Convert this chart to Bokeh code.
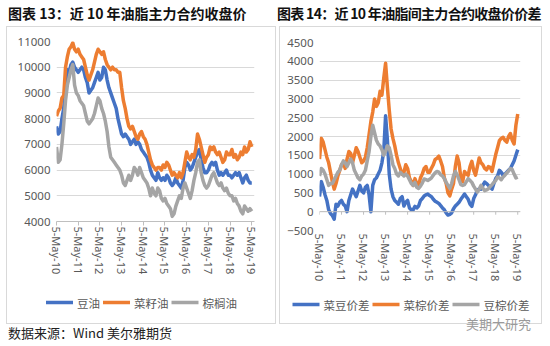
import math
from bokeh.plotting import figure
from bokeh.models import (FixedTicker, Span, Div, Range1d, Spacer)
from bokeh.core.properties import value
from bokeh.layouts import column, row
from bokeh.embed import file_html
from bokeh.resources import INLINE

# month index 0 = May 2010 ... 108 = May 2019
MONTHS = list(range(109))
X_TICKS = [0, 12, 24, 36, 48, 60, 72, 84, 96, 108]
X_LABELS = ["5-May-10", "5-May-11", "5-May-12", "5-May-13", "5-May-14",
            "5-May-15", "5-May-16", "5-May-17", "5-May-18", "5-May-19"]

LEFT_Y_TICKS = [4000, 5000, 6000, 7000, 8000, 9000, 10000, 11000]
RIGHT_Y_TICKS = [-500, 0, 500, 1000, 1500, 2000, 2500, 3000, 3500, 4000, 4500]

LEFT_NAMES = ["豆油", "菜籽油", "棕榈油"]
RIGHT_NAMES = ["菜豆价差", "菜棕价差", "豆棕价差"]

soy_oil = [7700, 7400, 7500, 8000, 8400, 9300, 9900, 9800, 10100, 10200,
           10000, 9900, 9800, 9900, 10000, 9900, 9600, 9400, 9000, 9100,
           9200, 9400, 9600, 9800, 9500, 9600, 10000, 9900, 9500, 9200,
           9000, 8800, 8600, 8400, 8000, 7700, 7400, 7300, 7400, 7300,
           7200, 7000, 7100, 7200, 7000, 7100, 7000, 6800, 6700, 6600,
           6500, 6300, 6000, 5800, 5700, 5600, 5900, 5700, 5600, 5700,
           5600, 5800, 5700, 5500, 5400, 5500, 5700, 5500, 5400, 5300,
           5600, 6100, 6300, 6200, 6000, 6100, 6300, 6500, 6700, 6800,
           6400, 6100, 5900, 5900, 6000, 6200, 6300, 6200, 6300, 6000,
           5800, 5900, 5800, 5900, 6000, 5800, 5800, 5700, 5800, 5900,
           5800, 5900, 5700, 5500, 5700, 5800, 5600, 5500, 5500]

rapeseed_oil = [8100, 8300, 8400, 8800, 8900, 10000, 10400, 10700, 10800, 10950,
                10700, 10600, 10700, 10500, 10400, 10300, 10000, 9700, 9500, 9700,
                9900, 10200, 10500, 10700, 10600, 10500, 10600, 10300, 10100, 10000,
                9900, 10000, 9900, 9900, 9800, 9800, 9200, 8700, 8400, 8000,
                7700, 7600, 7700, 7500, 7300, 7200, 7400, 7500, 7300, 7200,
                7000, 6700, 6400, 6200, 6100, 6000, 6100, 6100, 6000, 6200,
                6100, 6300, 6200, 6000, 5800, 5900, 5800, 5700, 5900, 5700,
                5900, 6300, 6700, 6500, 6400, 6600, 6500, 6800, 7400, 7200,
                6900, 6600, 6300, 6500, 6600, 6900, 6800, 6900, 6700, 6600,
                6700, 6500, 6300, 6400, 6700, 6600, 6600, 6800, 6500, 6600,
                6400, 6500, 6700, 6600, 6900, 6700, 6800, 7100, 6900]

palm_oil = [6900, 6300, 6400, 7000, 7800, 8700, 9300, 9600, 9900, 10100,
            9300, 9000, 8900, 8700, 8600, 8500, 8200, 7900, 7800, 7900,
            8000, 8200, 8500, 8800, 8700, 8400, 8200, 7900, 7500, 6900,
            6500, 6400, 6300, 6200, 6100, 6000, 5800, 5500, 5400, 5600,
            5800, 5600, 5800, 6100, 6000, 5800, 6100, 5900, 5700, 5600,
            5500, 5300, 5000, 5300, 5100, 5000, 5300, 5200, 4900, 4800,
            4900, 4700, 4600, 4500, 4200, 4300, 4600, 4800, 5000, 4900,
            5300, 5500, 5300, 5100, 4900, 5200, 5600, 5900, 6300, 6400,
            5900, 5600, 5400, 5300, 5400, 5600, 5800, 5900, 5700, 5500,
            5400, 5500, 5300, 5200, 5300, 5100, 5000, 5000, 4800, 4900,
            4700, 4600, 4400, 4300, 4600, 4500, 4400, 4500, 4400]

rape_soy_spread = [400, 800, 650, 450, 300, 50, -50, -100, -200, 200,
                   150, 250, 300, 200, 150, 0, 300, 450, 600, 500,
                   400, 550, 700, 550, 500, 650, 700, 450, 0, 700,
                   850, 900, 1000, 1100, 1300, 1600, 2550, 1900, 1000, 600,
                   400, 300, 250, 200, 350, 400, 150, 250, 300, 100,
                   50, 50, 140, 100, 150, 300, 350, 420, 450, 470,
                   430, 400, 330, 280, 250, 220, 160, 100, 50, -30,
                   -90, -70, -30, 80, 150, 200, 250, 330, 400, 470,
                   400, 330, 200, 140, 350, 450, 580, 600, 600, 700,
                   790, 750, 700, 650, 600, 750, 880, 950, 1100, 1050,
                   970, 1000, 1050, 1100, 1150, 1250, 1350, 1500, 1650]

rape_palm_spread = [1400, 1950, 1850, 1650, 1450, 1300, 1050, 800, 600, 750,
                    950, 1100, 1250, 1300, 1150, 1400, 1600, 1550, 1300, 1500,
                    1700, 1600, 1450, 1300, 1350, 1450, 1700, 2050, 2400, 2650,
                    3000, 2800, 2900, 3200, 3100, 3550, 3950, 3300, 2700, 2200,
                    1950, 1750, 1500, 1300, 1150, 1000, 1050, 1250, 1150, 900,
                    800, 700, 880, 750, 700, 900, 1000, 1150, 1200, 1050,
                    1050, 1160, 1250, 1390, 1420, 1480, 1350, 1200, 900, 750,
                    500, 420, 600, 750, 1200, 1480, 1300, 900, 800, 1070,
                    1000, 970, 1200, 1340, 1100, 970, 1200, 1430, 1300, 1250,
                    1150, 1110, 1200, 1180, 1070, 1300, 1520, 1700, 1890, 1950,
                    1980, 1900, 1850, 2000, 2080, 1900, 1800, 2300, 2600]

soy_palm_spread = [950, 1150, 1100, 1000, 850, 700, 750, 750, 850, 950,
                   1050, 1100, 1250, 1350, 1300, 1200, 1300, 1400, 1300, 1100,
                   1000, 900, 850, 950, 1000, 1100, 1350, 1600, 2000, 2300,
                   2100, 1900, 1800, 1750, 1650, 1500, 1600, 1750, 1700, 1500,
                   1250, 1150, 1000, 950, 1050, 1000, 950, 1000, 950, 850,
                   750, 700, 780, 650, 620, 680, 760, 870, 850, 830,
                   860, 900, 970, 1030, 1070, 1050, 980, 950, 880, 780,
                   700, 620, 750, 950, 1070, 980, 850, 720, 700, 720,
                   800, 880, 830, 780, 680, 600, 520, 600, 700, 620,
                   560, 580, 610, 670, 720, 780, 830, 920, 900, 850,
                   920, 970, 1030, 1080, 1150, 1120, 1000, 900, 920]

COLORS = ["#4472C4", "#ED7D31", "#A5A5A5"]
GRID = "#d9d9d9"
LABEL = "#595959"
TICK_FONT = "Noto Sans"
CJK = "Noto Sans CJK SC"
PANEL_H = 296
LEG_H = 26
KEY_W = 27        # legend key line length, px
KEY_GAP = 4       # gap key -> label
ITEM_GAP = 3      # gap label -> next key
LEG_FONT_PX = 11.5


def make_panel(width, main_h, y_lo, y_hi, y_ticks, series, names, borders,
               zero_axis=False):
    left, right, top, bottom = borders
    p = figure(width=width, height=main_h, output_backend="svg", toolbar_location=None,
               title=None, x_range=Range1d(0, 109.5), y_range=Range1d(y_lo, y_hi),
               min_border_left=left, min_border_right=right,
               min_border_top=top, min_border_bottom=bottom,
               background_fill_color="white", border_fill_color="white")
    p.outline_line_color = None
    p.xgrid.visible = False
    p.ygrid.grid_line_color = GRID
    p.ygrid.grid_line_width = 1

    p.yaxis.ticker = FixedTicker(ticks=y_ticks)
    p.yaxis.axis_line_color = None
    p.yaxis.major_tick_line_color = None
    p.yaxis.minor_tick_line_color = None
    p.yaxis.major_tick_out = 0
    p.yaxis.major_label_standoff = 6
    p.yaxis.major_label_text_font = TICK_FONT
    p.yaxis.major_label_text_font_size = "11.5px"
    p.yaxis.major_label_text_color = LABEL

    p.xaxis.ticker = FixedTicker(ticks=X_TICKS)
    p.xaxis.major_label_overrides = {t: l for t, l in zip(X_TICKS, X_LABELS)}
    p.xaxis.major_label_orientation = -math.pi / 2
    p.xaxis.major_label_text_font = TICK_FONT
    p.xaxis.major_label_text_font_size = "11px"
    p.xaxis.major_label_text_color = LABEL
    p.xaxis.minor_tick_line_color = None
    if zero_axis:
        p.xaxis.axis_line_color = None
        p.xaxis.major_tick_line_color = None
        p.xaxis.major_tick_out = 0
        p.xaxis.major_tick_in = 0
        p.xaxis.major_label_standoff = 3
        p.add_layout(Span(location=0, dimension="width", line_color="#bfbfbf",
                          line_width=1))
        p.segment(x0=X_TICKS, y0=[0] * len(X_TICKS), x1=X_TICKS,
                  y1=[-(y_hi - y_lo) * 0.016] * len(X_TICKS),
                  line_color="#bfbfbf", line_width=1)
    else:
        p.xaxis.axis_line_color = "#bfbfbf"
        p.xaxis.major_tick_line_color = "#bfbfbf"
        p.xaxis.major_tick_out = 4
        p.xaxis.major_tick_in = 0
        p.xaxis.major_label_standoff = 1

    for vals, col in zip(series, COLORS):
        p.line(MONTHS, vals, line_color=col, line_width=3.5, line_join="round")

    # legend strip below the chart, laid out in pixel units
    pl = figure(width=width, height=LEG_H, output_backend="svg", toolbar_location=None,
                title=None, x_range=Range1d(0, width), y_range=Range1d(0, LEG_H),
                x_axis_type=None, y_axis_type=None,
                min_border_left=0, min_border_right=0,
                min_border_top=0, min_border_bottom=0,
                background_fill_color="white", border_fill_color="white")
    pl.outline_line_color = None
    pl.xgrid.visible = False
    pl.ygrid.visible = False
    label_w = [len(n) * LEG_FONT_PX for n in names]
    total = sum(KEY_W + KEY_GAP + w for w in label_w) + ITEM_GAP * (len(names) - 1)
    x = (width - total) / 2.0
    ymid = LEG_H / 2.0
    for name, col, w in zip(names, COLORS, label_w):
        pl.segment(x0=[x], y0=[ymid], x1=[x + KEY_W], y1=[ymid],
                   line_color=col, line_width=3.5)
        pl.text(x=[x + KEY_W + KEY_GAP], y=[ymid], text=[name],
                text_font=value(CJK), text_font_size=f"{LEG_FONT_PX}px",
                text_color=LABEL, text_baseline="middle", text_align="left")
        x += KEY_W + KEY_GAP + w + ITEM_GAP

    pad = PANEL_H - main_h - LEG_H
    # wrap each plot in its own row so the column does not align their frames
    col_ = column(row(p), row(pl), Spacer(width=width, height=pad), spacing=0)
    col_.styles = {"border": "1px solid #d9d9d9"}
    return col_


panel1 = make_panel(268, 262, 4000, 11000, LEFT_Y_TICKS,
                    [soy_oil, rapeseed_oil, palm_oil], LEFT_NAMES,
                    (49, 21, 14, 68))
panel2 = make_panel(261, 264, -500, 4500, RIGHT_Y_TICKS,
                    [rape_soy_spread, rape_palm_spread, soy_palm_spread], RIGHT_NAMES,
                    (39, 21, 15, 61), zero_axis=True)
panel1.margin = (0, 0, 0, 6)
panel2.margin = (0, 0, 0, 3)

title_css = ("font-family:'Noto Sans CJK SC';font-weight:bold;font-size:14px;"
             "line-height:26px;color:#111;white-space:nowrap;")
t1 = Div(text=f'<div style="{title_css}padding-left:8px;">图表 13：近 10 年油脂主力合约收盘价</div>',
         width=272, height=26, margin=0)
t2 = Div(text=f'<div style="{title_css}padding-left:5px;letter-spacing:-0.7px;">图表 14：近 10 年油脂间主力合约收盘价价差</div>',
         width=278, height=26, margin=0)

src = Div(text=('<div style="position:relative;width:550px;height:24px;">'
                '<span style="position:absolute;left:8px;top:0px;font-family:\'Noto Sans CJK SC\';'
                'font-size:13px;line-height:18px;color:#222;white-space:nowrap;">数据来源：Wind 美尔雅期货</span>'
                '<span style="position:absolute;left:466px;top:-9px;font-family:\'Noto Sans CJK SC\';'
                'font-size:13px;line-height:18px;color:#9a9a9a;white-space:nowrap;">美期大研究</span>'
                '</div>'),
          width=550, height=24, margin=0)

layout = column(row(t1, t2), row(panel1, panel2), src)
layout.styles = {"background-color": "white"}

open("out.html", "w").write(file_html(layout, INLINE))
